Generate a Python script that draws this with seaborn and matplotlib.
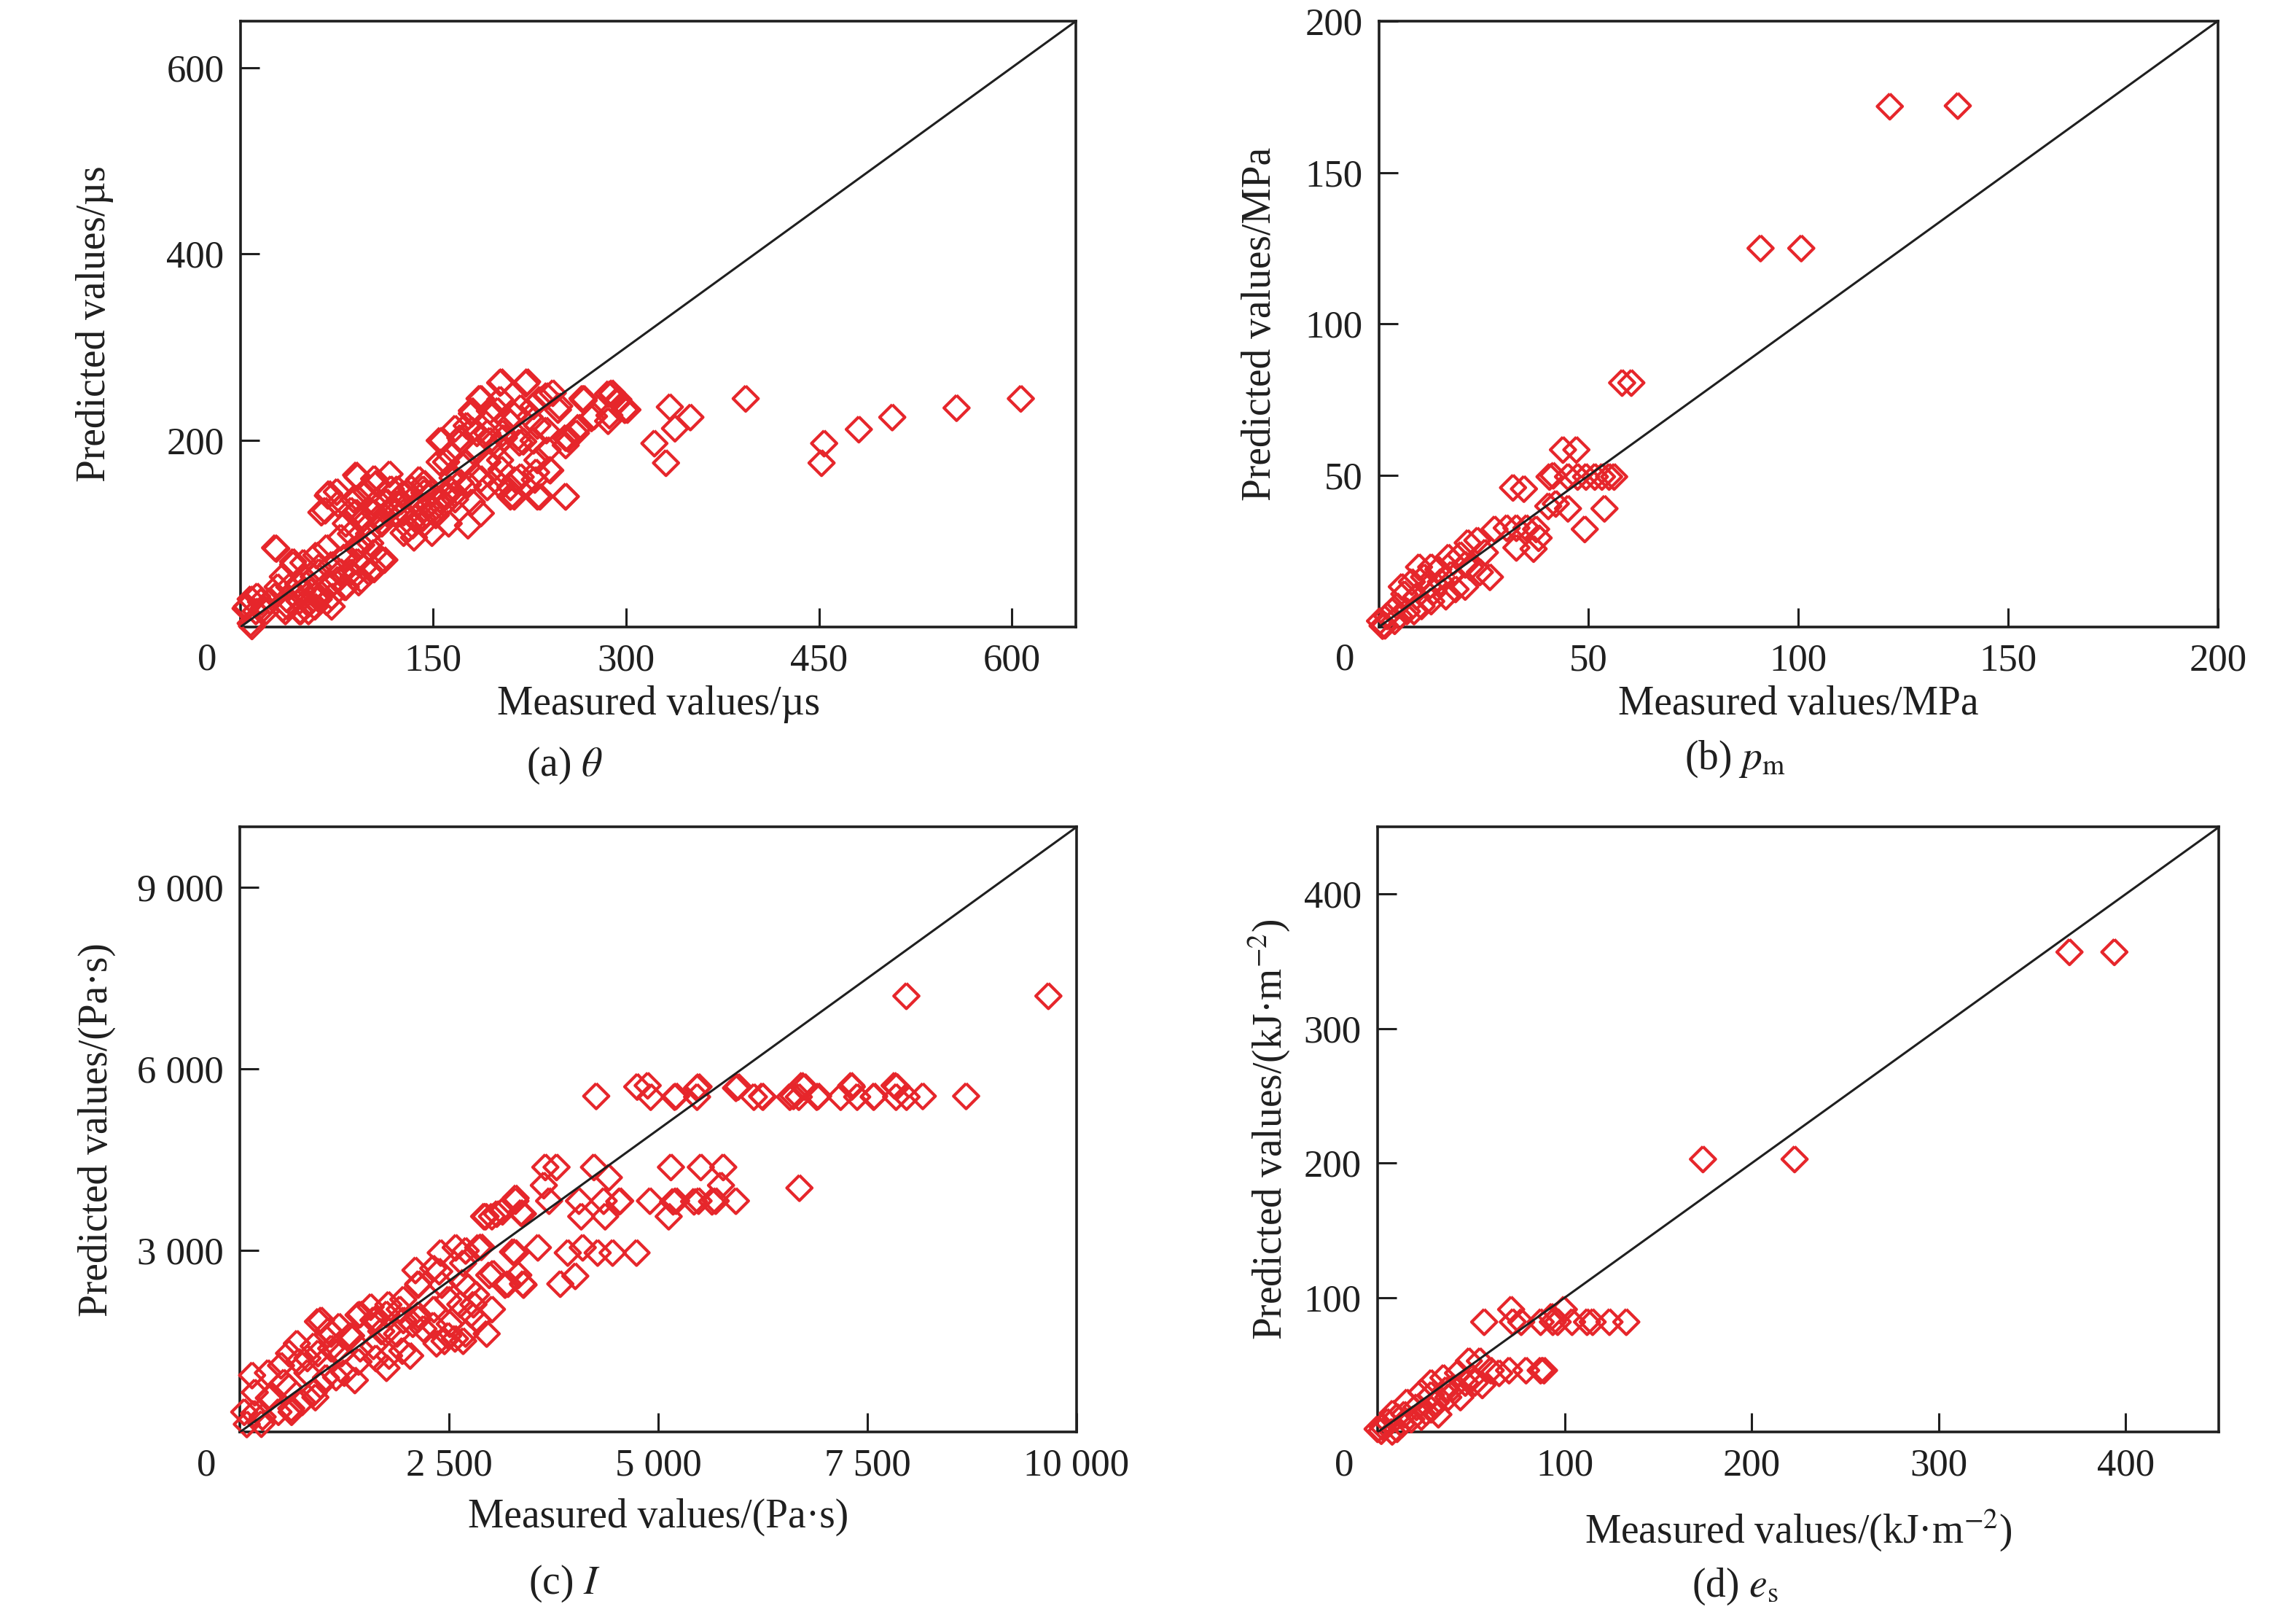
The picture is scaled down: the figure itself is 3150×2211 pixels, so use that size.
import matplotlib
matplotlib.use("Agg")
import matplotlib.pyplot as plt
import numpy as np
import pandas as pd
import seaborn as sns

sns.set_theme(style="ticks")
plt.rcParams["font.family"] = ["Liberation Serif", "DejaVu Serif"]
plt.rcParams["mathtext.fontset"] = "stix"
plt.rcParams["axes.unicode_minus"] = True

RED = "#E6262B"
INK = "#1f1f1f"

# ---------------- (a) theta ----------------
theta_measured = [
    202, 222, 243, 267, 289, 294, 299, 287, 275, 263, 255,
    186, 180, 194, 202, 218, 233, 247, 231, 216, 204, 176, 167, 155, 171, 184, 194,
    155, 163, 192, 202, 214, 231, 241, 231, 253, 210, 210, 229, 239, 253, 261, 220,
    198, 192, 180, 171, 163, 155, 143, 143, 139, 133, 122, 116, 90, 68, 63, 75, 88,
    98, 106, 114, 104, 94, 82, 90, 110, 120, 131, 143, 149, 135, 127, 157, 143, 167,
    100, 108, 118, 125, 137, 146, 152, 160, 165, 175, 185, 200, 208, 225,
    27, 41, 33, 49, 59, 67, 78, 86, 94, 104, 110, 96, 88, 78, 71, 63, 53, 43, 37, 27,
    16, 8, 4, 8, 20, 45, 57, 29, 61, 47, 71, 82, 92, 100, 67, 55, 35, 12,
    286, 301, 267, 322, 331, 334, 338, 350, 393, 452, 454, 481, 507, 557, 607,
    203, 223, 187, 180, 200, 213, 228, 238, 248, 266, 289, 294, 299, 286, 273, 263,
    253, 238, 228, 217, 205, 192, 180, 172, 157, 160, 172, 192, 203, 218, 230, 240,
    233, 253, 213, 203, 187, 177, 167, 159, 149, 142, 134, 127, 137, 127, 117, 104,
    91, 69, 66, 76, 86, 96, 107, 114, 122, 149, 142, 162, 177, 187, 91, 104,
    28, 41, 51, 61, 71, 81, 91, 101, 112, 104, 94, 81, 71, 58, 46, 33, 23, 13, 5, 9,
    38, 48, 61, 86, 76, 36, 18, 53, 46, 91, 69,
]
theta_predicted = [
    262, 261, 251, 245, 251, 244, 233, 227, 226, 214, 202,
    245, 232, 232, 244, 235, 244, 233, 216, 204, 208, 216, 213, 200, 203, 208, 200,
    177, 185, 177, 179, 158, 179, 168, 140, 140, 140, 150, 158, 190, 195, 208, 199,
    158, 150, 134, 155, 148, 137, 127, 154, 158, 148, 148, 164, 163, 141, 123, 145, 137,
    145, 154, 134, 123, 114, 111, 123, 111, 122, 106, 111, 101, 96, 123, 129, 144, 137,
    100, 118, 128, 135, 118, 130, 120, 140, 160, 175, 190, 195, 222, 225,
    85, 67, 54, 69, 77, 85, 96, 100, 88, 80, 72, 64, 54, 59, 46, 35, 25, 33, 22, 33,
    27, 30, 20, 4, 17, 46, 54, 43, 64, 17, 22, 43, 48, 59, 27, 38, 17, 17,
    250, 233, 243, 197, 176, 236, 213, 225, 245, 176, 197, 212, 225, 235, 245,
    263, 263, 245, 229, 232, 227, 237, 248, 237, 245, 250, 242, 233, 221, 224, 214,
    203, 211, 200, 198, 203, 208, 211, 200, 200, 177, 174, 177, 169, 161, 166, 169,
    140, 140, 140, 151, 159, 153, 143, 132, 125, 117, 109, 101, 132, 143, 148, 159,
    161, 143, 125, 132, 125, 117, 109, 122, 132, 143, 148, 111, 109, 122, 138, 132,
    84, 70, 51, 59, 67, 75, 85, 90, 72, 62, 51, 43, 33, 22, 17, 20, 28, 33, 22, 1,
    43, 38, 30, 59, 51, 30, 20, 17, 28, 70, 43,
]

# ---------------- (b) p_m ----------------
pm_measured = [
    43.9, 47.1, 40.7, 41.6, 45.1, 47.4, 49.4, 51.5, 53.2, 54.9, 56.1, 32.0, 34.6,
    40.4, 42.2, 45.1, 53.8, 49.1, 27.6, 30.5, 32.8, 35.2, 37.5, 38.1, 32.8, 36.9,
    25.3, 21.2, 23.5, 19.5, 17.7, 12.5, 9.6, 21.8, 24.1, 26.5, 14.8, 11.9, 9.0, 6.1,
    4.4, 2.0, 0.9, 3.8, 6.7, 10.2, 12.5, 16.0, 18.3, 20.6, 17.2, 14.2, 10.8, 7.9,
    5.5, 16.6, 20.6, 13.1, 8.4, 3.2, 4.9, 0.3, 1.5,
    121.8, 138.0, 91.0, 100.7, 58.0, 60.2,
]
pm_predicted = [
    58.5, 58.5, 49.6, 50.0, 49.6, 49.6, 49.6, 49.6, 49.6, 49.6, 49.6, 46.0, 45.6,
    39.9, 40.7, 39.1, 39.1, 32.3, 32.3, 32.7, 32.7, 32.7, 32.3, 29.4, 26.2, 25.8,
    24.6, 27.8, 28.6, 23.8, 21.4, 19.8, 19.8, 19.8, 18.1, 16.5, 14.9, 13.3, 10.1, 10.9,
    6.9, 3.6, 0.4, 2.0, 5.2, 6.9, 8.5, 10.1, 12.5, 13.3, 17.3, 19.0, 16.5, 14.9,
    13.3, 23.0, 20.6, 11.7, 5.2, 5.2, 3.6, 2.0, 0.5,
    171.8, 172.0, 125.0, 125.0, 80.6, 80.6,
]

# ---------------- (c) I ----------------
I_measured = [
    2100, 2132, 2384, 2415, 2667, 2730, 2982, 3171, 3329, 3392, 2793, 3014, 2825,
    2951, 2699, 2447, 2352, 2195, 2069, 1912, 1754, 1628, 1440, 1565, 1880, 2037,
    1754, 1628, 1440, 1313, 1188, 1093, 935, 935, 809, 683, 589, 494, 337, 148, 180,
    369, 589, 809, 966, 1030, 904, 746, 620, 463, 274, 85, 54, 1250, 1376, 1785,
    1943, 2132, 2321, 2636, 2510, 2573, 2762, 1691, 1219, 1093,
    973, 884, 705, 527, 348, 170, 259, 616, 884, 1152, 1420, 1598, 1777, 1955, 2134,
    2313, 2491, 2670, 2849, 2491, 2134, 1955, 1598, 1331, 1152, 1063, 1420, 1777,
    2313, 2670, 3027, 3384,
    2402, 2581, 2849, 3295, 3563, 3920, 4277, 4456, 4742, 4099, 3831, 4010, 3206,
    2700, 2887, 3266,
    3297, 3360, 3140, 3014, 2920, 2938, 3072, 3384,
    3697, 4054, 4349, 4546, 4902, 5215, 5483, 5929, 5688, 3295, 4081, 4367, 5126,
    4535, 5179, 5429, 5644,
    3652, 3786, 4233, 5153, 5510, 5778, 4411, 3634, 6688, 5751,
    4750, 4875, 5465, 5483, 5930, 5956, 6717, 6751, 7307, 7314, 7825, 7850,
    4260, 4911, 5197, 5215, 5465, 6144, 6242, 6252, 6574, 6617, 6681, 6895, 6912,
    7181, 7378, 7575, 7582, 7843, 7968, 8162, 8680,
    7966, 9663,
]
I_predicted = [
    2677, 2435, 2657, 2435, 2475, 2394, 2596, 2435, 2596, 2435, 2112, 2031, 2273,
    1627, 1627, 1506, 1466, 1708, 1789, 2031, 1950, 1870, 1950, 2071, 1627, 1264,
    1062, 1223, 1385, 1587, 1748, 1385, 1829, 1304, 1223, 1466, 1304, 1102, 981, 941, 658,
    577, 739, 981, 779, 900, 577, 497, 335, 335, 254, 133, 335, 981, 860, 1264,
    1345, 1870, 2031, 2112, 1789, 1547, 1950, 1668, 1304, 1627,
    1851, 1423, 1166, 823, 566, 309, 137, 394, 651, 908, 1166, 1423, 1680, 1851, 1937,
    1765, 1594, 1508, 1851, 2194, 2451, 2194, 1851, 1594, 1337, 1680, 1937, 2108,
    2708, 2794, 2622, 2451,
    2965, 3051, 3051, 2965, 3051, 2965, 2965, 2965, 2965, 3051, 2451, 2580, 2451,
    3000, 3060, 2980,
    3868, 3626, 3646, 3566, 3566, 3565, 3608, 3608,
    3822, 3822, 3822, 3822, 3822, 3822, 3822, 3822, 3822, 3822, 3565, 3565, 3565,
    3812, 3812, 3812, 3812,
    4379, 4379, 4379, 4379, 4379, 4379, 4208, 4079, 4036, 4079,
    5708, 5728, 5687, 5708, 5687, 5708, 5728, 5708, 5728, 5708, 5728, 5708,
    5553, 5540, 5540, 5553, 5540, 5540, 5553, 5540, 5540, 5553, 5540, 5540, 5553,
    5540, 5540, 5540, 5553, 5540, 5540, 5553, 5553,
    7207, 7207,
]

# ---------------- (d) e_s ----------------
es_measured = [
    57, 71.4, 72.3, 76.8, 87.2, 93.7, 99.6, 104, 112, 115, 124, 133, 96.3, 93,
    48.8, 54.7, 60.5, 70.3, 79.4, 87.2, 89, 65,
    28.6, 35.2, 43, 46.9, 52, 56, 37.8, 44.3, 31.2, 28.6, 23.4, 15.6, 20.8, 26, 32.5,
    14.3, 10.4, 5.2, 2.6, 0, 2, 7.8, 13, 18, 23.4, 28.6, 40.4, 50.8, 36.5, 10.4, 8,
    370, 394, 174, 223,
]
es_predicted = [
    82, 91.3, 82, 82, 82, 82, 91.3, 82, 82, 82, 82, 82, 82, 86,
    53, 53, 46, 46, 46, 46, 46, 44,
    36.8, 40.5, 44, 36.8, 36.8, 35, 26, 26, 22.3, 27.8, 29.6, 22.3, 18.7, 15, 13.2,
    13.2, 11.4, 7.8, 4.2, 2.4, 1, 0.5, 6, 9.6, 11.4, 16.9, 33.2, 40.5, 31.4, 2.4, 14,
    357, 357, 203, 203,
]

# ticks / labels
theta_ticks = [150, 300, 450, 600]
pm_ticks = [50, 100, 150, 200]
I_xticks = [2500, 5000, 7500, 10000]
I_xticklabels = ["2 500", "5 000", "7 500", "10 000"]
I_yticks = [3000, 6000, 9000]
I_yticklabels = ["3 000", "6 000", "9 000"]
es_ticks = [100, 200, 300, 400]

DIAMOND = [(0.0, 1.0), (1.0, 0.0), (0.0, -1.0), (-1.0, 0.0), (0.0, 1.0)]

panels = [
    dict(x=theta_measured, y=theta_predicted, lim=650,
         xt=theta_ticks, xtl=[str(t) for t in theta_ticks],
         yt=[200, 400, 600], ytl=["200", "400", "600"],
         xlabel="Measured values/µs", ylabel="Predicted values/µs",
         caption=r"(a) $\theta$", rect=[0.1047, 0.611, 0.3640, 0.376],
         ylc=-0.174, xlc=-0.127, cap=(0.2457, 0.519)),
    dict(x=pm_measured, y=pm_predicted, lim=200,
         xt=pm_ticks, xtl=[str(t) for t in pm_ticks],
         yt=pm_ticks, ytl=[str(t) for t in pm_ticks],
         xlabel="Measured values/MPa", ylabel="Predicted values/MPa",
         caption=r"(b) $p_\mathrm{m}$", rect=[0.6005, 0.611, 0.3655, 0.376],
         ylc=-0.141, xlc=-0.127, cap=(0.7556, 0.523)),
    dict(x=I_measured, y=I_predicted, lim=10000,
         xt=I_xticks, xtl=I_xticklabels, yt=I_yticks, ytl=I_yticklabels,
         xlabel="Measured values/(Pa·s)", ylabel="Predicted values/(Pa·s)",
         caption=r"(c) $I$", rect=[0.1044, 0.1115, 0.3645, 0.3755],
         ylc=-0.171, xlc=-0.140, cap=(0.2457, 0.0113)),
    dict(x=es_measured, y=es_predicted, lim=450,
         xt=es_ticks, xtl=[str(t) for t in es_ticks],
         yt=es_ticks, ytl=[str(t) for t in es_ticks],
         xlabel=r"Measured values/(kJ·m$^{-2}$)",
         ylabel=r"Predicted values/(kJ·m$^{-2}$)",
         caption=r"(d) $e_\mathrm{s}$", rect=[0.6000, 0.1115, 0.3665, 0.3755],
         ylc=-0.129, xlc=-0.162, cap=(0.7556, 0.0095)),
]

fig = plt.figure(figsize=(15.75, 11.055), dpi=200)

for p in panels:
    ax = fig.add_axes(p["rect"])
    df = pd.DataFrame({"measured": p["x"], "predicted": p["y"]})
    sns.scatterplot(data=df, x="measured", y="predicted", ax=ax, marker=DIAMOND,
                    s=155, facecolor="none", edgecolor=RED, linewidth=1.5,
                    clip_on=False, zorder=3, legend=False)
    lim = p["lim"]
    ax.plot([0, lim], [0, lim], color=INK, lw=1.1, zorder=4)
    ax.set_xlim(0, lim)
    ax.set_ylim(0, lim)
    ax.set_xticks(p["xt"])
    ax.set_xticklabels(p["xtl"])
    ax.set_yticks(p["yt"])
    ax.set_yticklabels(p["ytl"])
    ax.tick_params(direction="in", length=9.4, width=1.1, colors=INK,
                   labelsize=19, pad=8, top=False, right=False)
    for sp in ax.spines.values():
        sp.set_linewidth(1.3)
        sp.set_color(INK)
        sp.set_visible(True)
    ax.set_xlabel(p["xlabel"], fontsize=20, color=INK, va="center")
    ax.set_ylabel(p["ylabel"], fontsize=20, color=INK, va="center")
    ax.xaxis.set_label_coords(0.5, p["xlc"])
    ax.yaxis.set_label_coords(p["ylc"], 0.5)
    ax.annotate("0", xy=(0, 0), xycoords="axes fraction", xytext=(-16.6, -16.5),
                textcoords="offset points", ha="center", va="center",
                fontsize=19, color=INK)
    fig.text(p["cap"][0], p["cap"][1], p["caption"], ha="center", va="baseline",
             fontsize=20, color=INK)

fig.savefig("out.png", dpi=200)
